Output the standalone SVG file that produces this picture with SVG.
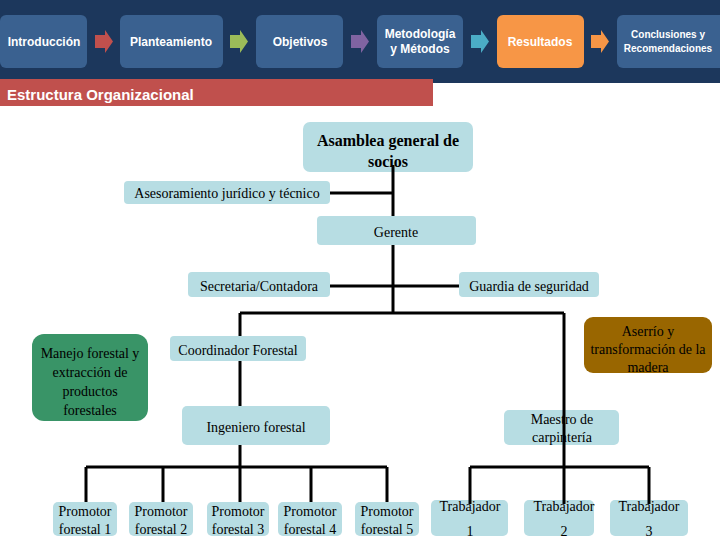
<svg xmlns="http://www.w3.org/2000/svg" width="720" height="540" viewBox="0 0 720 540">
<style>
.hb{fill:#3a6190}
.ht{font-family:"Liberation Sans",Arial,sans-serif;font-weight:bold;fill:#ffffff;text-anchor:middle}
.n{fill:#b7dde3}
.t{font-family:"Liberation Serif","Times New Roman",serif;font-size:14px;fill:#000;text-anchor:middle}
.t14{font-family:"Liberation Serif","Times New Roman",serif;font-size:14px;fill:#000;text-anchor:middle}
.c{stroke:#000;stroke-width:3;fill:none}
</style>
<rect x="0" y="0" width="720" height="83" fill="#1c375c"/>
<g id="header">
<g id="h-intro"><rect class="hb" x="0" y="15" width="87" height="53" rx="6"/><text class="ht" x="44" y="46" font-size="12">Introducción</text></g>
<path d="M95 35h10v-5l8 11.5-8 11.5v-5h-10z" fill="#c0504d"/>
<g id="h-plant"><rect class="hb" x="120" y="15" width="103" height="53" rx="6"/><text class="ht" x="171" y="46" font-size="12">Planteamiento</text></g>
<path d="M230 35h10v-5l8 11.5-8 11.5v-5h-10z" fill="#9bbb59"/>
<g id="h-obj"><rect class="hb" x="256" y="15" width="87" height="53" rx="6"/><text class="ht" x="300" y="46" font-size="12">Objetivos</text></g>
<path d="M351 35h10v-5l8 11.5-8 11.5v-5h-10z" fill="#8064a2"/>
<g id="h-met"><rect class="hb" x="377" y="15" width="86" height="53" rx="6"/><text class="ht" x="420" y="38" font-size="12">Metodología</text><text class="ht" x="420" y="53" font-size="12">y Métodos</text></g>
<path d="M471 35h10v-5l8 11.5-8 11.5v-5h-10z" fill="#4bacc6"/>
<g id="h-res"><rect x="497" y="15" width="87" height="53" rx="6" fill="#f79646"/><text class="ht" x="540" y="46" font-size="12">Resultados</text></g>
<path d="M591 35h10v-5l8 11.5-8 11.5v-5h-10z" fill="#f79646"/>
<g id="h-conc"><rect class="hb" x="617" y="15" width="110" height="53" rx="6"/><text class="ht" x="668" y="38" font-size="10">Conclusiones y</text><text class="ht" x="668" y="52" font-size="10">Recomendaciones</text></g>
</g>
<g id="title"><rect x="0" y="79" width="433" height="27" fill="#c0504d"/><text x="7" y="100" font-family="'Liberation Sans',Arial,sans-serif" font-weight="bold" font-size="15" fill="#fff">Estructura Organizacional</text></g>

<g id="asamblea"><rect class="n" x="303" y="122" width="170" height="50" rx="7"/><text class="t" x="388" y="146" font-weight="bold" style="font-size:16px">Asamblea general de</text><text class="t" x="388" y="167" font-weight="bold" style="font-size:16px">socios</text></g>
<g id="asesoramiento"><rect class="n" x="124" y="181" width="206" height="23" rx="4"/><text class="t" x="227" y="198">Asesoramiento jurídico y técnico</text></g>
<g id="gerente"><rect class="n" x="317" y="216" width="159" height="29" rx="4"/><text class="t" x="396" y="237">Gerente</text></g>
<g id="secretaria"><rect class="n" x="188" y="272" width="142" height="25" rx="4"/><text class="t" x="259" y="291">Secretaria/Contadora</text></g>
<g id="guardia"><rect class="n" x="459" y="272" width="140" height="25" rx="4"/><text class="t" x="529" y="291">Guardia de seguridad</text></g>
<g id="manejo"><rect x="32" y="334" width="116" height="87" rx="12" fill="#399467"/>
<text class="t14" x="90" y="358">Manejo forestal y</text><text class="t14" x="90" y="377">extracción de</text><text class="t14" x="90" y="396">productos</text><text class="t14" x="90" y="415">forestales</text></g>
<g id="coordinador"><rect class="n" x="170" y="336" width="136" height="25" rx="4"/><text class="t" x="238" y="355">Coordinador Forestal</text></g>
<g id="aserrio"><rect x="584" y="317" width="128" height="56" rx="9" fill="#996600"/>
<text class="t" x="648" y="336">Aserrío y</text><text class="t" x="648" y="354">transformación de la</text><text class="t" x="648" y="372">madera</text></g>
<g id="ingeniero"><rect class="n" x="182" y="406" width="148" height="39" rx="5"/><text class="t" x="256" y="432">Ingeniero forestal</text></g>
<g id="maestro"><rect class="n" x="504" y="410" width="115" height="35" rx="5"/><text class="t" x="562" y="424">Maestro de</text><text class="t" x="562" y="442">carpintería</text></g>
<g id="promotor1"><rect class="n" x="53" y="502" width="64" height="34" rx="5"/><text class="t14" x="85" y="516">Promotor</text><text class="t14" x="85" y="534">forestal 1</text></g>
<g id="promotor2"><rect class="n" x="129" y="502" width="64" height="34" rx="5"/><text class="t14" x="161" y="516">Promotor</text><text class="t14" x="161" y="534">forestal 2</text></g>
<g id="promotor3"><rect class="n" x="207" y="502" width="62" height="34" rx="5"/><text class="t14" x="238" y="516">Promotor</text><text class="t14" x="238" y="534">forestal 3</text></g>
<g id="promotor4"><rect class="n" x="278" y="502" width="64" height="34" rx="5"/><text class="t14" x="310" y="516">Promotor</text><text class="t14" x="310" y="534">forestal 4</text></g>
<g id="promotor5"><rect class="n" x="355" y="502" width="64" height="34" rx="5"/><text class="t14" x="387" y="516">Promotor</text><text class="t14" x="387" y="534">forestal 5</text></g>
<g id="trabajador1"><rect class="n" x="431" y="500" width="77" height="36" rx="5"/><text class="t14" x="470" y="511">Trabajador</text><text class="t14" x="470" y="536">1</text></g>
<g id="trabajador2"><rect class="n" x="524" y="500" width="70" height="36" rx="5"/><text class="t14" x="564" y="511">Trabajador</text><text class="t14" x="564" y="536">2</text></g>
<g id="trabajador3"><rect class="n" x="610" y="500" width="78" height="36" rx="5"/><text class="t14" x="649" y="511">Trabajador</text><text class="t14" x="649" y="536">3</text></g>

<g id="connectors" class="c">
<path d="M393 165V216"/>
<path d="M330 193H393"/>
<path d="M393 245V313"/>
<path d="M330 286H459"/>
<path d="M240 313H564"/>
<path d="M240 313V336M240 361V406M240 445V467"/>
<path d="M564 313V467"/>
<path d="M86 467H387M86 467V502M163 467V502M240 467V502M311 467V502M387 467V502"/>
<path d="M470 467H649M470 467V504M564 467V504M649 467V504"/>
</g>
</svg>
